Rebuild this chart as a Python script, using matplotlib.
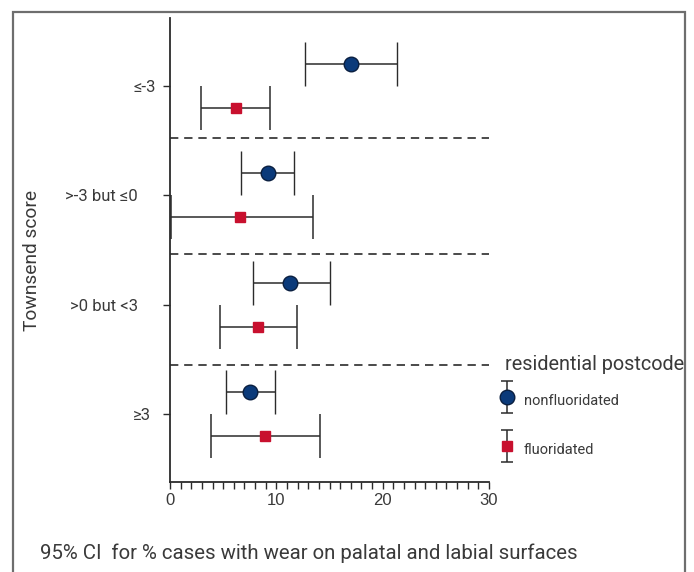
import matplotlib
matplotlib.use("Agg")
import matplotlib.pyplot as plt
import numpy as np
from matplotlib.patches import Rectangle
from matplotlib.ticker import MultipleLocator
from matplotlib.transforms import ScaledTranslation
from matplotlib.legend_handler import HandlerErrorbar

# Townsend score groups, top to bottom
groups = ["\u2264-3", ">-3 but \u22640", ">0 but <3", "\u22653"]

# % cases with wear, point estimate and 95% CI
nonfl_mean = [17.0, 9.2, 11.3, 7.5]
nonfl_low = [12.7, 6.7, 7.8, 5.3]
nonfl_high = [21.35, 11.7, 15.05, 9.9]

fl_mean = [6.2, 6.6, 8.3, 8.9]
fl_low = [2.9, 0.1, 4.7, 3.9]
fl_high = [9.4, 13.45, 11.95, 14.1]

separators = [0.476, 1.54, 2.555]

txt_col = "#3a3a3a"
line_col = "#2b2b2b"
blue = "#0b3a7a"
red = "#c8102e"

plt.rcParams["font.family"] = ["Roboto", "DejaVu Sans"]

fig = plt.figure(figsize=(6.94, 5.72), dpi=100)
ax = fig.add_axes([170 / 694, 1 - 482 / 572, (489 - 170) / 694, (482 - 18) / 572])

ypos = list(range(len(groups)))
y_nf = [y - 0.2 for y in ypos]
y_f = [y + 0.2 for y in ypos]

err_nf = [[m - l for m, l in zip(nonfl_mean, nonfl_low)],
          [h - m for m, h in zip(nonfl_mean, nonfl_high)]]
err_f = [[m - l for m, l in zip(fl_mean, fl_low)],
         [h - m for m, h in zip(fl_mean, fl_high)]]

ax.errorbar(nonfl_mean, y_nf, xerr=err_nf, fmt="o", color=line_col, ecolor=line_col,
            elinewidth=1.1, capsize=15.5, capthick=1.1, markersize=10.5,
            markerfacecolor=blue, markeredgecolor="#0a1f40", markeredgewidth=1, zorder=3)
ax.errorbar(fl_mean, y_f, xerr=err_f, fmt="s", color=line_col, ecolor=line_col,
            elinewidth=1.1, capsize=15.5, capthick=1.1, markersize=7,
            markerfacecolor=red, markeredgecolor=red, zorder=3)

for s in separators:
    ax.plot([0, 30], [s, s], color=line_col, lw=1.2, dashes=(5, 3.5), zorder=1)

ax.set_xlim(0, 30)
ax.set_ylim(3.62, -0.62)
ax.set_yticks(ypos)
ax.set_yticklabels(groups, fontsize=12, color=txt_col)
ax.xaxis.set_major_locator(MultipleLocator(10))
ax.xaxis.set_minor_locator(MultipleLocator(1))
ax.tick_params(axis="x", which="both", length=5, width=1, color=line_col,
               labelsize=12, labelcolor=txt_col, pad=3)
ax.tick_params(axis="y", length=5, width=1, color=line_col, pad=14)
for lab in ax.get_xticklabels():
    lab.set_family(["Liberation Sans", "DejaVu Sans"])

# nudge tick labels to match the original placement
shifts = [12, -6, -5, 7]
for lab, dx in zip(ax.get_yticklabels(), shifts):
    lab.set_transform(lab.get_transform() + ScaledTranslation(dx / 100, 0, fig.dpi_scale_trans))

for side in ["top", "right"]:
    ax.spines[side].set_visible(False)
for side in ["left", "bottom"]:
    ax.spines[side].set_color(line_col)
    ax.spines[side].set_linewidth(1.3)

ax.set_ylabel("Townsend score", fontsize=13.8, color=txt_col, labelpad=0)
ax.yaxis.set_label_coords(-0.405, 0.478)

# legend proxies (nan data, so nothing shows on the axes)
h_nf = ax.errorbar([np.nan], [np.nan], yerr=[np.nan], fmt="o", color=line_col, ecolor=line_col,
                   elinewidth=1.1, capsize=4, capthick=1.1, markersize=10.5,
                   markerfacecolor=blue, markeredgecolor="#0a1f40")
h_f = ax.errorbar([np.nan], [np.nan], yerr=[np.nan], fmt="s", color=line_col, ecolor=line_col,
                  elinewidth=1.1, capsize=4, capthick=1.1, markersize=7,
                  markerfacecolor=red, markeredgecolor=red)
leg = ax.legend([h_nf, h_f], ["nonfluoridated", "fluoridated"],
                fontsize=10.5, frameon=False, loc="center left",
                bbox_to_anchor=(1.0, (482 - 425) / 464), handlelength=0.6, handleheight=2.2,
                handletextpad=0.9, labelspacing=1.7,
                handler_map={type(h_nf): HandlerErrorbar(xerr_size=0.3, yerr_size=1.1)})
for t in leg.get_texts():
    t.set_color(txt_col)
fig.text(505 / 694, 1 - 365 / 572, "residential postcode", fontsize=14.3, color=txt_col,
         ha="left", va="center")

fig.text(40 / 694, 1 - 553 / 572, "95% CI  for % cases with wear on palatal and labial surfaces",
         fontsize=14.7, color=txt_col, va="center", ha="left")

fig.add_artist(Rectangle((13 / 694, -0.05), (685 - 13) / 694, 1.05 - 12 / 572,
                         transform=fig.transFigure, fill=False, edgecolor="#6e6e6e", lw=1.6))

fig.savefig("out.png", dpi=100)
